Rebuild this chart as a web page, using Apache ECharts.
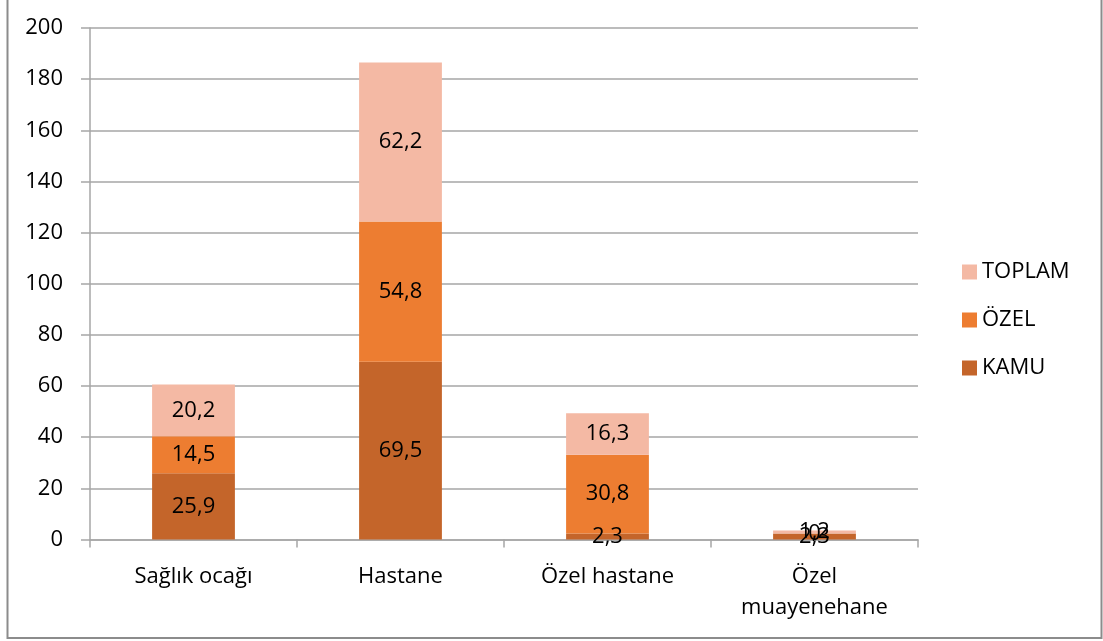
<!DOCTYPE html>
<html><head><meta charset="utf-8">
<script src="https://cdn.jsdelivr.net/npm/echarts@6/dist/echarts.min.js"></script>
<style>html,body{margin:0;padding:0;background:#fff}#c{width:1103px;height:641px}</style>
</head><body><div id="c"></div>
<script>
const categories = ['Sağlık ocağı', 'Hastane', 'Özel hastane', 'Özel\nmuayenehane'];
const kamu = [25.9, 69.5, 2.3, 2.3];
const ozel = [14.5, 54.8, 30.8, 0];
const toplam = [20.2, 62.2, 16.3, 1.2];
const yTicks = [0, 20, 40, 60, 80, 100, 120, 140, 160, 180, 200];

const font = '"Open Sans", "Liberation Sans", sans-serif';
const lbl = {show: true, position: 'inside', color: '#000', fontSize: 22, fontFamily: font,
  formatter: p => String(p.value).replace('.', ',')};
const chart = echarts.init(document.getElementById('c'));
chart.setOption({
  animation: false,
  graphic: [{type: 'rect', shape: {x: 7.5, y: -5, width: 1094, height: 643}, style: {fill: 'none', stroke: '#8c8c8c', lineWidth: 2}}],
  grid: {left: 90, right: 185, top: 28, bottom: 101.5},
  legend: {orient: 'vertical', left: 957, top: 256, itemGap: 26, itemWidth: 15, itemHeight: 15,
    icon: 'rect', textStyle: {fontSize: 22, fontFamily: font, color: '#000'},
    data: ['TOPLAM', 'ÖZEL', 'KAMU']},
  xAxis: {type: 'category', data: categories,
    axisLine: {lineStyle: {color: '#a6a6a6', width: 1.5}},
    axisTick: {show: true, length: 8, lineStyle: {color: '#a6a6a6', width: 1.5}},
    axisLabel: {fontSize: 22, fontFamily: font, color: '#000', margin: 22, lineHeight: 31}},
  yAxis: {type: 'value', min: 0, max: 200, interval: 20,
    axisLine: {show: true, lineStyle: {color: '#a6a6a6', width: 1.5}},
    axisTick: {show: true, length: 9, lineStyle: {color: '#a6a6a6', width: 1.5}},
    splitLine: {lineStyle: {color: '#a6a6a6', width: 1.5}},
    axisLabel: {fontSize: 22, fontFamily: font, color: '#000', margin: 27,
      formatter: v => yTicks.includes(v) ? String(v) : ''}},
  series: [
    {name: 'KAMU', type: 'bar', stack: 's', data: kamu, barWidth: '40%', itemStyle: {color: '#C4652A'}, label: lbl},
    {name: 'ÖZEL', type: 'bar', stack: 's', data: ozel, itemStyle: {color: '#ED7D31'}, label: lbl},
    {name: 'TOPLAM', type: 'bar', stack: 's', data: toplam, itemStyle: {color: '#F4B9A4'}, label: lbl}
  ]
});
</script></body></html>
